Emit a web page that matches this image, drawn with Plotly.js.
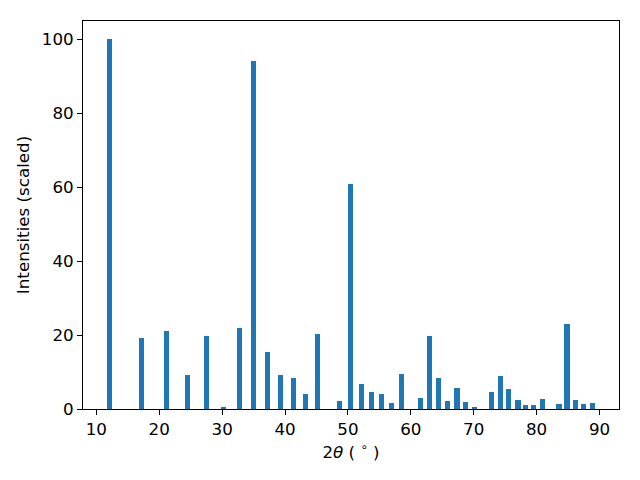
<!DOCTYPE html>
<html>
<head>
<meta charset="utf-8">
<script src="https://cdn.plot.ly/plotly-3.0.1.min.js"></script>
<style>html,body{margin:0;padding:0;background:#fff;}#chart{width:640px;height:480px;}</style>
</head>
<body>
<div id="chart"></div>
<script>
const twoTheta = [12.15, 17.24, 21.2, 24.55, 27.57, 30.28, 32.82, 35.05, 37.28, 39.34,
  41.41, 43.32, 45.23, 48.73, 50.48, 52.23, 53.82, 55.41, 57.0, 58.59,
  61.61, 63.04, 64.47, 65.9, 67.34, 68.77, 70.2, 72.9, 74.33, 75.6,
  77.04, 78.31, 79.58, 81.0, 83.56, 84.83, 86.26, 87.53, 88.81];
const intensity = [100, 19.3, 21.2, 9.2, 19.8, 0.6, 22.0, 94.2, 15.5, 9.2,
  8.4, 4.1, 20.4, 2.2, 60.8, 6.8, 4.6, 4.1, 1.6, 9.5,
  3.0, 19.8, 8.4, 2.2, 5.7, 1.9, 0.5, 4.6, 9.0, 5.4,
  2.4, 1.1, 1.1, 2.7, 1.4, 23.1, 2.4, 1.4, 1.6];
const xTicks = [10, 20, 30, 40, 50, 60, 70, 80, 90];
const yTicks = [0, 20, 40, 60, 80, 100];

const trace = {
  type: 'bar',
  x: twoTheta,
  y: intensity,
  width: 0.8,
  marker: {color: '#1f77b4', line: {width: 0}}
};
const font = {family: 'DejaVu Sans, sans-serif', size: 16.7, color: '#000'};
const layout = {
  width: 640, height: 480,
  margin: {l: 83, r: 21, t: 21, b: 71, pad: 0},
  paper_bgcolor: '#fff', plot_bgcolor: '#fff',
  font: font,
  showlegend: false,
  bargap: 0,
  xaxis: {
    range: [7.88, 93.1],
    tickvals: xTicks, ticktext: xTicks.map(String),
    ticks: 'outside', ticklen: 5, tickwidth: 1, tickcolor: '#000',
    showline: true, linecolor: '#000', linewidth: 1, mirror: true,
    showgrid: false, zeroline: false,
    tickfont: font,
    title: {text: '2<i>θ</i> ( <sup>∘</sup> )', font: font, standoff: 8}
  },
  yaxis: {
    range: [0, 105],
    tickvals: yTicks, ticktext: yTicks.map(String),
    ticks: 'outside', ticklen: 5, tickwidth: 1, tickcolor: '#000',
    showline: true, linecolor: '#000', linewidth: 1, mirror: true,
    showgrid: false, zeroline: false,
    tickfont: font,
    title: {text: 'Intensities (scaled)', font: font, standoff: 7}
  }
};
Plotly.newPlot('chart', [trace], layout, {staticPlot: true, displayModeBar: false});
</script>
</body>
</html>
